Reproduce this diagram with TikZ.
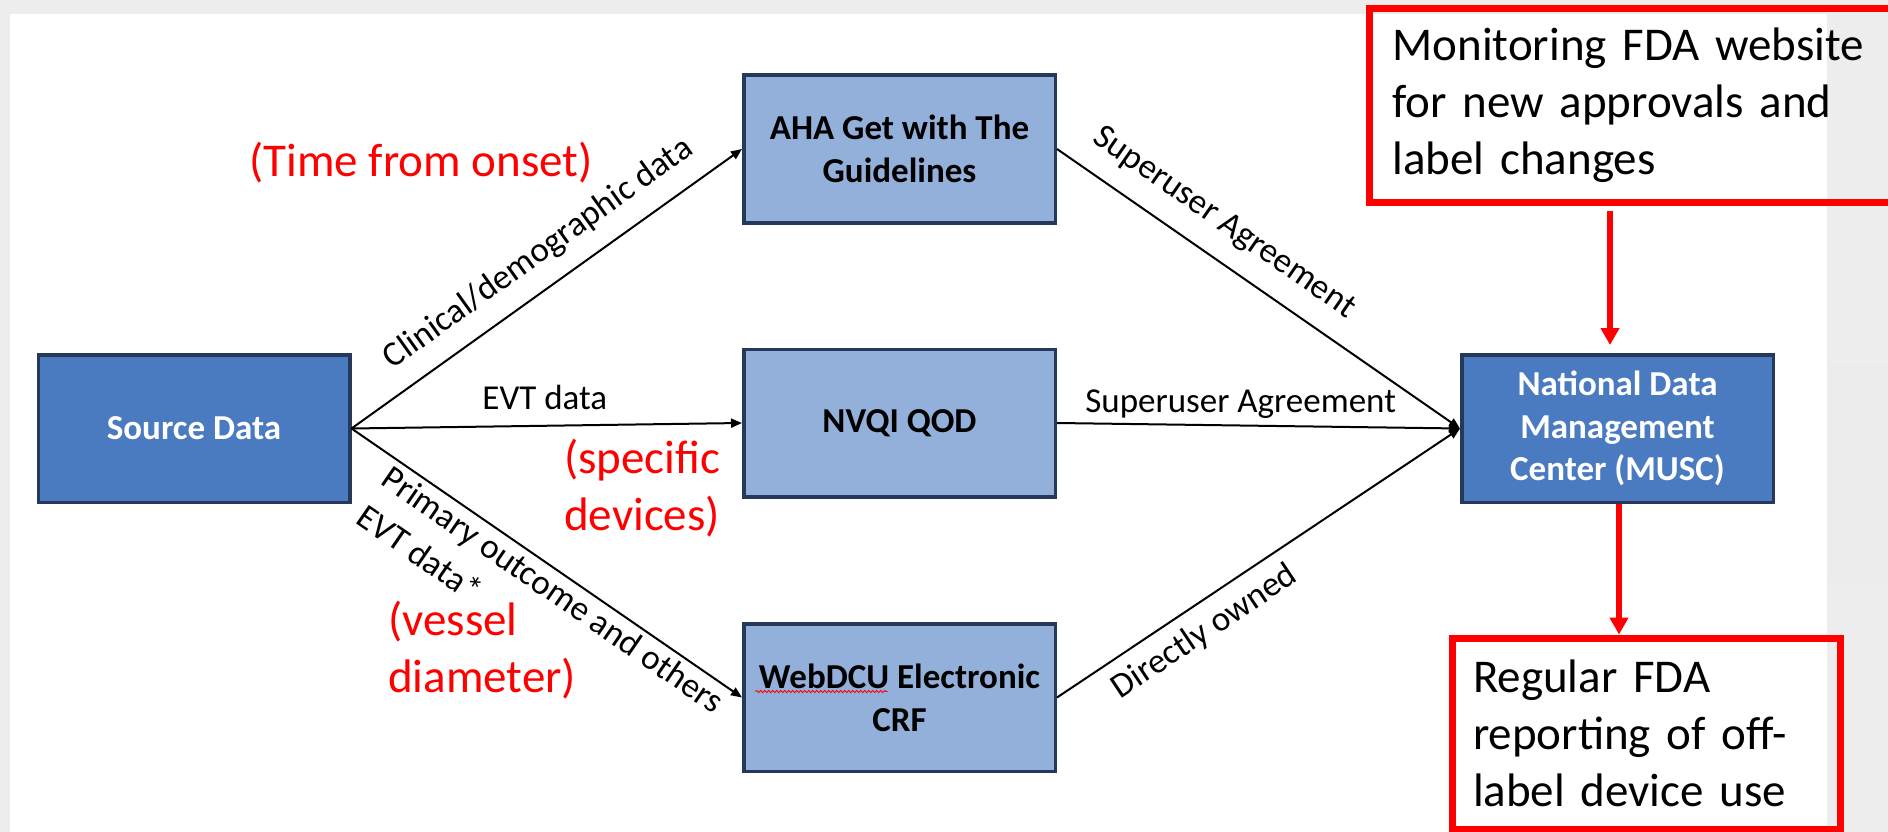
\documentclass[tikz,border=0pt]{standalone}
\usepackage{fontspec}
\setmainfont{Carlito}
\usetikzlibrary{arrows.meta,calc,decorations.pathmorphing}
\definecolor{darkfill}{HTML}{4A7BC0}
\definecolor{lightfill}{HTML}{93B0DA}
\definecolor{boxline}{HTML}{26395A}
\definecolor{bgray}{HTML}{EDEDED}
\begin{document}
\begin{tikzpicture}[x=1pt,y=-1pt,
  box/.style={draw=boxline, line width=3.5pt, minimum width=311.5pt, minimum height=147.5pt,
    inner sep=4pt, align=center, font=\bfseries\fontsize{35}{42.7}\selectfont},
  darkbox/.style={box, fill=darkfill, text=white},
  lightbox/.style={box, fill=lightfill, text=black},
  conn/.style={line width=2pt, -{Triangle[length=11pt,width=9pt]}},
  lbl/.style={font=\fontsize{35}{43}\selectfont, inner sep=0pt},
  redlbl/.style={font=\fontsize{47}{57.3}\selectfont, text=red, inner sep=0pt, align=left},
  redbox/.style={draw=red, line width=7pt, font=\fontsize{47}{57.3}\selectfont, align=left, inner ysep=0pt},
  redarrow/.style={draw=red, line width=6pt, -{Triangle[length=17pt,width=18pt]}}
]
\useasboundingbox (0,0) rectangle (1888,832);
\clip (0,0) rectangle (1888,832);
% slide background
\fill[bgray] (0,0) rectangle (1888,832);
\fill[white] (10,14) rectangle (1827,832);
\fill[gray!16] (1827,366) rectangle (1888,583);

% boxes
\node[darkbox]  (src)  at (194,428.5)   {Source Data};
\node[lightbox] (aha)  at (899.5,149)   {AHA Get with The\\Guidelines};
\node[lightbox] (nvqi) at (899.5,423)   {NVQI QOD};
\node[lightbox] (web)  at (899.5,697.5) {WebDCU Electronic\\CRF};
\node[darkbox]  (musc) at (1617.5,428.5) {National Data\\Management\\Center (MUSC)};

% spell-check squiggle under WebDCU
\draw[red, line width=0.9pt, decorate, decoration={snake, amplitude=1.1pt, segment length=4pt}]
  ($(web.center)+(-144,-6)$) -- ($(web.center)+(-12,-6)$);

% connectors
\draw[conn] (src.east) -- (aha.west);
\draw[conn] (src.east) -- (nvqi.west);
\draw[conn] (src.east) -- (web.west);
\draw[conn] (aha.east) -- (musc.west);
\draw[conn] (nvqi.east) -- (musc.west);
\draw[conn] (web.east) -- (musc.west);

% connector labels
\node[lbl, anchor=base west, rotate=35.63] (lclin) at ($(src.east)!68pt!(aha.west)!24pt!90:(aha.west)$) {Clinical/demographic data};
\node[lbl, anchor=base west] (levt) at ($(src.east)!131pt!(nvqi.west)!17pt!90:(nvqi.west)$) {EVT data};
\node[lbl, anchor=base west, rotate=-34.59] (lprim) at ($(src.east)!54pt!(web.west)!30pt!-90:(web.west)$) {Primary outcome and others};
\node[lbl, anchor=base west, rotate=-34.59] (levt2) at ($(src.east)!56pt!(web.west)!76pt!-90:(web.west)$) {EVT data*};
\node[lbl, anchor=base west, rotate=-34.81] (lsup1) at ($(aha.east)!24pt!(musc.west)!26pt!90:(musc.west)$) {Superuser Agreement};
\node[lbl, anchor=base west] (lsup2) at ($(nvqi.east)!28pt!(musc.west)!11pt!90:(musc.west)$) {Superuser Agreement};
\node[lbl, anchor=base west, rotate=33.79] (ldir) at ($(web.east)!52pt!(musc.west)!37pt!-90:(musc.west)$) {Directly owned};

% red annotations
\node[redlbl, anchor=base west] (rtime) at (249,177) {(Time from onset)};
\node[redlbl, anchor=base west, text width=220pt] (rspec) at (564,473) {(specific\\devices)};
\node[redlbl, anchor=base west, text width=240pt] (rvess) at (388,635) {(vessel\\diameter)};

% red boxes
\node[redbox, minimum width=541pt, minimum height=193.5pt, inner xsep=23pt, text width=495pt] (mon) at (1640,105.25)
  {Monitoring FDA website\\for new approvals and\\label changes};
\node[redbox, minimum width=388pt, minimum height=191pt, inner xsep=21pt, text width=346pt] (rep) at (1646,733.5)
  {Regular FDA\\reporting of off-\\label device use};

% red arrows
\draw[redarrow, shorten <=5pt, shorten >=8pt] ([xshift=-7.5pt]musc.north |- mon.south) -- ([xshift=-7.5pt]musc.north);
\draw[redarrow] ([xshift=1.5pt]musc.south) -- ([xshift=1.5pt]musc.south |- rep.north);
\end{tikzpicture}
\end{document}
